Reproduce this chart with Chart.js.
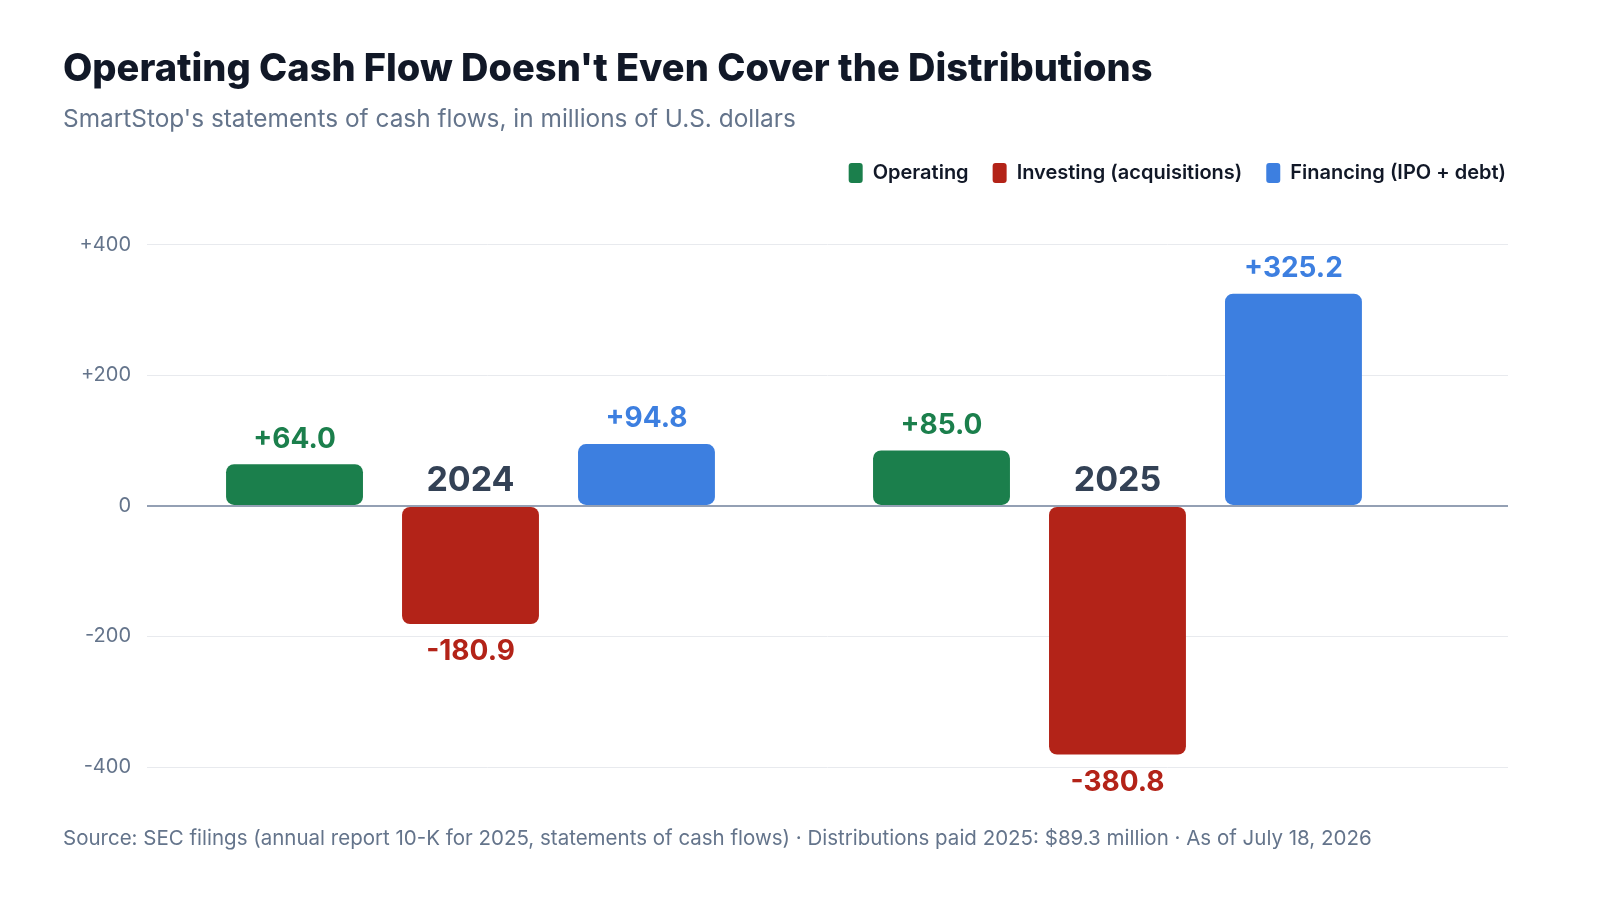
<!DOCTYPE html>
<html>
<head>
<meta charset="utf-8">
<script src="https://cdn.jsdelivr.net/npm/chart.js@4/dist/chart.umd.min.js"></script>
<style>
  html, body { margin: 0; padding: 0; background: #fff; overflow: hidden; }
  #wrap { position: relative; width: 1600px; height: 900px; }
  canvas { display: block; }
  #footer {
    position: absolute; left: 63px; top: 825px;
    font: 20.5px Inter, sans-serif; color: #64748b; white-space: nowrap;
  }
</style>
</head>
<body>
<div id="wrap">
  <canvas id="cashChart" width="1600" height="900"></canvas>
  <div id="footer">Source: SEC filings (annual report 10-K for 2025, statements of cash flows) · Distributions paid 2025: $89.3 million · As of July 18, 2026</div>
</div>
<script>
// Data (millions of USD)
const years = ['2024', '2025'];
const operating = [64.0, 85.0];
const investing = [-180.9, -380.8];
const financing = [94.8, 325.2];
const yTicks = [-400, -200, 0, 200, 400];

const seriesNames = ['Operating', 'Investing (acquisitions)', 'Financing (IPO + debt)'];
const seriesColors = ['#1b7f4c', '#b32318', '#3d7fe0'];

const toPoints = arr => arr.map((v, i) => ({ x: i, y: v }));

// value labels above / below bars, and year labels at the zero line
const labelPlugin = {
  id: 'labelPlugin',
  afterLayout(chart) {
    // push legend flush to the right edge of the plot
    chart.legend.left += 22;
    chart.legend.right += 22;
  },
  afterDatasetsDraw(chart) {
    const ctx = chart.ctx;
    const xs = chart.scales.x;
    const ys = chart.scales.y;
    ctx.save();
    ctx.textAlign = 'center';
    ctx.textBaseline = 'middle';
    chart.data.datasets.forEach((ds, di) => {
      const meta = chart.getDatasetMeta(di);
      meta.data.forEach((bar, i) => {
        const v = ds.data[i].y;
        const txt = (v > 0 ? '+' : '') + v.toFixed(1);
        ctx.font = '700 28px Inter, sans-serif';
        ctx.fillStyle = seriesColors[di];
        ctx.fillText(txt, bar.x, v >= 0 ? bar.y - 25 : bar.y + 28);
      });
    });
    ctx.font = '700 34px Inter, sans-serif';
    ctx.fillStyle = '#334155';
    years.forEach((y, i) => {
      ctx.fillText(y, xs.getPixelForValue(i), ys.getPixelForValue(0) - 25);
    });
    ctx.restore();
  }
};

const ctx = document.getElementById('cashChart');
new Chart(ctx, {
  type: 'bar',
  data: {
    datasets: [operating, investing, financing].map((arr, i) => ({
      label: seriesNames[i],
      data: toPoints(arr),
      backgroundColor: seriesColors[i],
      borderRadius: 8,
      borderSkipped: false,
      categoryPercentage: 0.816,
      barPercentage: 0.778
    }))
  },
  options: {
    responsive: false,
    animation: false,
    layout: { padding: { left: 63, right: 92, top: 0, bottom: 133 } },
    scales: {
      x: {
        type: 'linear',
        position: 'top',
        offset: false,
        min: -0.5,
        max: 1.6036,
        afterBuildTicks: s => { s.ticks = years.map((y, i) => ({ value: i })); },
        afterFit: s => { s.height = 52; },
        ticks: { display: false },
        grid: { display: false },
        border: { display: false }
      },
      y: {
        min: -400,
        max: 400,
        afterBuildTicks: s => { s.ticks = yTicks.map(v => ({ value: v })); },
        afterFit: s => { s.width = 84; },
        border: { display: false },
        grid: {
          drawTicks: false,
          color: c => c.tick && c.tick.value === 0 ? '#94a0b4' : '#e8eaee',
          lineWidth: c => c.tick && c.tick.value === 0 ? 2 : 1
        },
        ticks: {
          padding: 16,
          color: '#64748b',
          font: { family: 'Inter, sans-serif', size: 20 },
          callback: v => (v > 0 ? '+' : '') + v
        }
      }
    },
    plugins: {
      tooltip: { enabled: false },
      title: {
        display: true,
        text: "Operating Cash Flow Doesn't Even Cover the Distributions",
        align: 'start',
        color: '#111827',
        font: { family: 'Inter, sans-serif', size: 38, weight: 800 },
        padding: { top: 47, bottom: 0 }
      },
      subtitle: {
        display: true,
        text: "SmartStop's statements of cash flows, in millions of U.S. dollars",
        align: 'start',
        color: '#64748b',
        font: { family: 'Inter, sans-serif', size: 24.4 },
        padding: { top: 12, bottom: 5 }
      },
      legend: {
        position: 'top',
        align: 'end',
        labels: {
          boxWidth: 14,
          boxHeight: 20,
          useBorderRadius: true,
          borderRadius: 3,
          padding: 24,
          color: '#111827',
          font: { family: 'Inter, sans-serif', size: 20, weight: 600 }
        }
      }
    }
  },
  plugins: [labelPlugin]
});
</script>
</body>
</html>
